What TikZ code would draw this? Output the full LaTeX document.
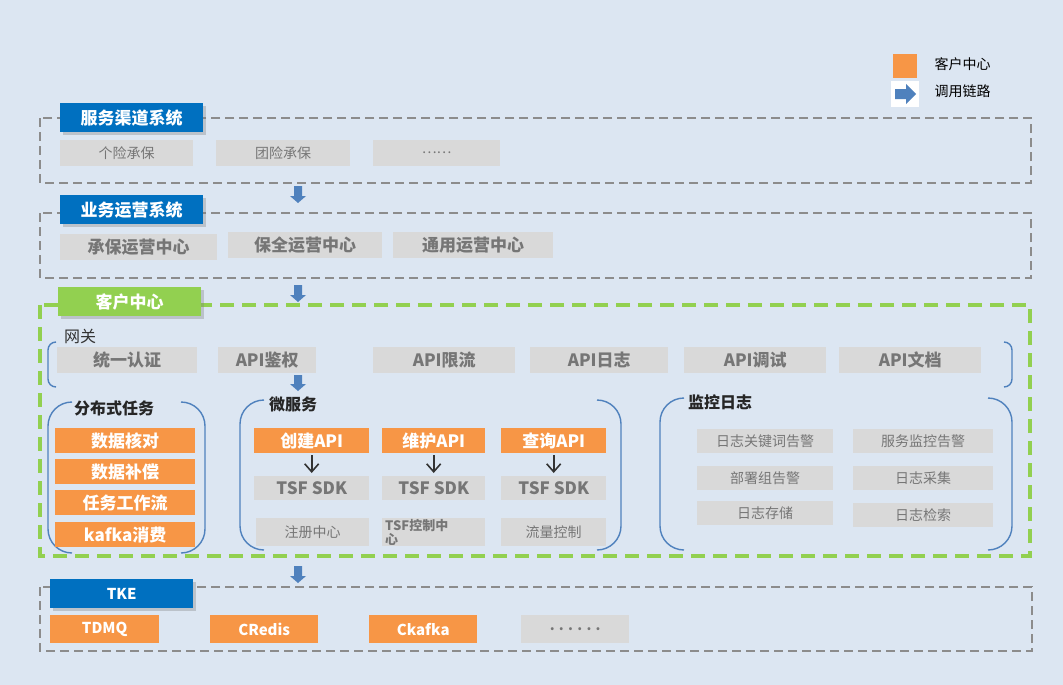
\documentclass[tikz,border=0pt]{standalone}
\usepackage{fontspec}
\setmainfont{Noto Sans CJK SC}
\usetikzlibrary{shadows,arrows.meta}
\definecolor{bg}{RGB}{220,230,242}
\definecolor{gbox}{RGB}{217,217,217}
\definecolor{gtxt}{RGB}{118,118,118}
\definecolor{org}{RGB}{247,150,70}
\definecolor{blu}{RGB}{0,112,192}
\definecolor{grn}{RGB}{146,208,80}
\definecolor{arr}{RGB}{79,129,189}
\definecolor{brk}{RGB}{79,129,189}
\begin{document}
\begin{tikzpicture}[x=1pt,y=-1pt,
  gi/.style={fill=gbox,text=gtxt,font=\fontsize{14}{14}\selectfont,inner sep=0,anchor=north west},
  gb/.style={fill=gbox,text=gtxt,font=\bfseries\fontsize{17}{17}\selectfont,inner sep=0,anchor=north west},
  oi/.style={fill=org,text=white,font=\bfseries\fontsize{17}{17}\selectfont,inner sep=0,anchor=north west},
  tab/.style={fill=blu,text=white,font=\bfseries\fontsize{17}{17}\selectfont,inner sep=0,anchor=north west,drop shadow={opacity=0.35}},
  dbox/.style={draw=gray!90,line width=2.2pt,dash pattern=on 9pt off 5pt},
  ttl/.style={text=black!85,font=\bfseries\fontsize{16}{16}\selectfont,inner sep=1pt,fill=bg},
  brk/.style={draw=brk,line width=1.4pt},
  bar/.style={-{Straight Barb[length=8pt,width=14pt]},line width=1.6pt,black!80}]
\fill[bg] (0,0) rectangle (1063,685);
\useasboundingbox (0,0) rectangle (1063,685);
\newcommand\lbr[4]{\draw[brk] (#1+#4,#2) arc(270:180:#4) -- (#1,#3-#4) arc(180:90:#4);}
\newcommand\rbr[4]{\draw[brk] (#1-#4,#2) arc(270:360:#4) -- (#1,#3-#4) arc(0:90:#4);}
% legend
\fill[org] (893,54) rectangle (917,78);
\node[anchor=west,font=\fontsize{14}{14}\selectfont] (lg1) at (931,64) {客户中心};
\fill[white] (891,81) rectangle (919,107);
\fill[arr] (895,89)--(906,89)--(906,84)--(916,94)--(906,104)--(906,99)--(895,99)--cycle;
\node[anchor=west,font=\fontsize{14}{14}\selectfont] (lg2) at (931,91) {调用链路};
% blue down arrows
\newcommand\darr[3]{\fill[arr] (#1-4,#2)--(#1+4,#2)--(#1+4,#3-7)--(#1+8,#3-7)--(#1,#3)--(#1-8,#3-7)--(#1-4,#3-7)--cycle;}
\darr{298}{186}{203}\darr{298}{285}{302}\darr{298}{375}{391}\darr{298}{566}{583}
% box1
\draw[dbox] (40,118) rectangle (1031,183);
\node[tab,minimum width=143,minimum height=29] (t1) at (60,103) {服务渠道系统};
\node[gi,minimum width=133,minimum height=26] (a1) at (60,140) {个险承保};
\node[gi,minimum width=134,minimum height=26] (a2) at (216,140) {团险承保};
\node[gi,minimum width=127,minimum height=26] (a3) at (373,140) {……};
% box2
\draw[dbox] (40,213) rectangle (1031,278);
\node[tab,minimum width=143,minimum height=29] (t2) at (60,195) {业务运营系统};
\node[gb,minimum width=157,minimum height=26] (b1) at (60,234) {承保运营中心};
\node[gb,minimum width=154,minimum height=26] (b2) at (228,232) {保全运营中心};
\node[gb,minimum width=160,minimum height=26] (b3) at (393,232) {通用运营中心};
% box3
\draw[draw=grn,line width=3.5pt,dash pattern=on 14pt off 8pt] (40,305) rectangle (1030,556);
\node[tab,fill=grn,minimum width=143,minimum height=29] (t3) at (58,287) {客户中心};
\lbr{48}{342}{387}{8}
\rbr{1012}{342}{387}{8}
\node[anchor=west,font=\fontsize{16}{16}\selectfont,text=black!80,inner sep=1pt,fill=bg] (gw) at (63,336) {网关};
\node[gb,minimum width=140,minimum height=26] (g1) at (57,347) {统一认证};
\node[gb,minimum width=98,minimum height=26] (g2) at (218,347) {API鉴权};
\node[gb,minimum width=142,minimum height=26] (g3) at (373,347) {API限流};
\node[gb,minimum width=138,minimum height=26] (g4) at (530,347) {API日志};
\node[gb,minimum width=142,minimum height=26] (g5) at (684,347) {API调试};
\node[gb,minimum width=142,minimum height=26] (g6) at (839,347) {API文档};
% distributed
\lbr{48}{402}{553}{24}
\rbr{205}{402}{553}{24}
\node[ttl,anchor=west] (dt) at (73,408) {分布式任务};
\node[oi,minimum width=140,minimum height=25] (d1) at (55,428) {数据核对};
\node[oi,minimum width=140,minimum height=25] (d2) at (55,459) {数据补偿};
\node[oi,minimum width=140,minimum height=25] (d3) at (55,490) {任务工作流};
\node[oi,minimum width=140,minimum height=25] (d4) at (55,522) {kafka消费};
% microservices
\lbr{240}{400}{550}{24}
\rbr{621}{400}{550}{24}
\node[ttl,anchor=west] (mt) at (268,404) {微服务};
\node[oi,minimum width=115,minimum height=25] (m1) at (254,428) {创建API};
\node[oi,minimum width=103,minimum height=25] (m2) at (382,428) {维护API};
\node[oi,minimum width=105,minimum height=25] (m3) at (501,428) {查询API};
\node[gb,minimum width=115,minimum height=24] (s1) at (254,476) {TSF SDK};
\node[gb,minimum width=103,minimum height=24] (s2) at (382,476) {TSF SDK};
\node[gb,minimum width=105,minimum height=24] (s3) at (501,476) {TSF SDK};
\draw[bar] ([yshift=-2pt]m1.south) -- ([yshift=3pt]s1.north);
\draw[bar] ([yshift=-2pt]m2.south) -- ([yshift=3pt]s2.north);
\draw[bar] ([yshift=-2pt]m3.south) -- ([yshift=3pt]s3.north);
\node[gi,minimum width=113,minimum height=28] (r1) at (256,518) {注册中心};
\node[gi,minimum width=103,minimum height=28,align=left,text width=97,inner xsep=3,font=\bfseries\fontsize{13}{14}\selectfont] (r2) at (382,518) {TSF控制中\\心};
\node[gi,minimum width=105,minimum height=28] (r3) at (501,518) {流量控制};
% monitoring
\lbr{660}{398}{550}{24}
\rbr{1012}{398}{550}{24}
\node[ttl,anchor=west] (jt) at (687,402) {监控日志};
\node[gi,minimum width=136,minimum height=24] (j1) at (697,429) {日志关键词告警};
\node[gi,minimum width=140,minimum height=24] (j2) at (853,429) {服务监控告警};
\node[gi,minimum width=136,minimum height=24] (j3) at (697,466) {部署组告警};
\node[gi,minimum width=140,minimum height=24] (j4) at (853,466) {日志采集};
\node[gi,minimum width=136,minimum height=24] (j5) at (697,501) {日志存储};
\node[gi,minimum width=140,minimum height=24] (j6) at (853,503) {日志检索};
% TKE
\draw[dbox] (40,587) rectangle (1032,651);
\node[tab,minimum width=143,minimum height=29,font=\bfseries\fontsize{15}{15}\selectfont] (t4) at (50,579) {TKE};
\node[oi,minimum width=109,minimum height=28,font=\bfseries\fontsize{15}{15}\selectfont] (k1) at (50,615) {TDMQ};
\node[oi,minimum width=108,minimum height=28,font=\bfseries\fontsize{15}{15}\selectfont] (k2) at (210,615) {CRedis};
\node[oi,minimum width=108,minimum height=28,font=\bfseries\fontsize{15}{15}\selectfont] (k3) at (369,615) {Ckafka};
\node[gi,minimum width=108,minimum height=28,font=\bfseries\fontsize{14}{14}\selectfont] (k4) at (521,615) {. . . . . .};
\end{tikzpicture}
\end{document}
